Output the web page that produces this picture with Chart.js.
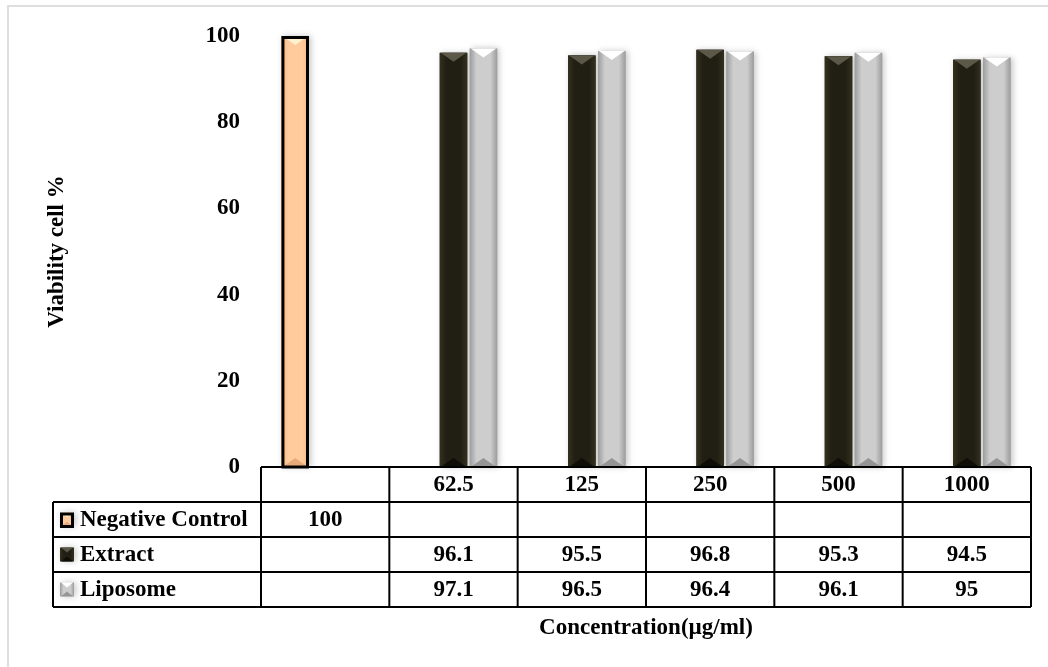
<!DOCTYPE html>
<html>
<head>
<meta charset="utf-8">
<script src="https://cdn.jsdelivr.net/npm/chart.js@4.4.0/dist/chart.umd.min.js"></script>
<style>
html, body { margin: 0; padding: 0; background: #fff; }
#wrap { width: 1048px; height: 667px; position: relative; }
</style>
</head>
<body>
<div id="wrap"><canvas id="chart" width="1048" height="667"></canvas></div>
<script>
// data
const categories = ['', '62.5', '125', '250', '500', '1000'];
const negativeControl = [100, null, null, null, null, null];
const extract = [null, 96.1, 95.5, 96.8, 95.3, 94.5];
const liposome = [null, 97.1, 96.5, 96.4, 96.1, 95];
const seriesNames = ['Negative Control', 'Extract', 'Liposome'];
const yTitle = 'Viability cell %';
const xTitle = 'Concentration(µg/ml)';

const FONT = "'Liberation Serif', 'Times New Roman', serif";

// look of each series (3D bevelled bars)
const looks = [
    { edge: '#f5b882', mid: '#ffcb9c', top: '#fff3cf', bottom: '#eaa978', border: '#000' },
    { edge: '#34301f', mid: '#211e13', top: '#5b5848', bottom: '#0e0c06', border: null },
    { edge: '#9c9c9c', mid: '#cdcdcd', top: '#ffffff', bottom: '#959595', border: null }
];

function paintBar(ctx, l, t, r, b, look, bev) {
    const w = r - l, cx = (l + r) / 2;
    ctx.save();
    ctx.shadowColor = 'rgba(0,0,0,0.22)';
    ctx.shadowBlur = 6;
    ctx.shadowOffsetX = 2;
    const g = ctx.createLinearGradient(l, 0, r, 0);
    g.addColorStop(0, look.edge);
    g.addColorStop(0.25, look.mid);
    g.addColorStop(0.75, look.mid);
    g.addColorStop(1, look.edge);
    ctx.fillStyle = g;
    ctx.fillRect(l, t, w, b - t);
    ctx.restore();

    // top chevron highlight
    ctx.fillStyle = look.top;
    ctx.beginPath();
    ctx.moveTo(l + 1, t); ctx.lineTo(r - 1, t); ctx.lineTo(cx, t + bev); ctx.closePath();
    ctx.fill();
    // bottom chevron shade
    ctx.fillStyle = look.bottom;
    ctx.beginPath();
    ctx.moveTo(l + 1, b); ctx.lineTo(r - 1, b); ctx.lineTo(cx, b - bev); ctx.closePath();
    ctx.fill();

    if (look.border) {
        ctx.strokeStyle = look.border;
        ctx.lineWidth = 3;
        ctx.strokeRect(l + 1.5, t + 1.5, w - 3, b - t - 1.5);
    }
}

const barLook = {
    id: 'barLook',
    afterDatasetsDraw(chart) {
        const ctx = chart.ctx;
        chart.data.datasets.forEach((ds, di) => {
            const meta = chart.getDatasetMeta(di);
            meta.data.forEach((bar, i) => {
                if (ds.data[i] == null) return;
                const p = bar.getProps(['x', 'y', 'base', 'width'], true);
                paintBar(ctx, p.x - p.width / 2, p.y, p.x + p.width / 2, p.base, looks[di], 9);
            });
        });
    }
};

const tableAndTitles = {
    id: 'tableAndTitles',
    afterDraw(chart) {
        const ctx = chart.ctx;
        const area = chart.chartArea;
        const xs = chart.scales.x;
        const n = categories.length;
        const colW = (area.right - area.left) / n;
        const rowH = 35;
        const top = area.bottom;
        const labelLeft = 53;
        const rows = [negativeControl, extract, liposome];

        ctx.save();
        // faint frame of the figure
        ctx.strokeStyle = '#dedede';
        ctx.lineWidth = 2;
        ctx.beginPath();
        ctx.moveTo(8, 667); ctx.lineTo(8, 6); ctx.lineTo(1048, 6);
        ctx.stroke();

        // grid of the data table
        ctx.strokeStyle = '#000';
        ctx.lineWidth = 2;
        ctx.beginPath();
        ctx.moveTo(area.left, top); ctx.lineTo(area.right, top);
        for (let r = 1; r <= 4; r++) {
            ctx.moveTo(labelLeft, top + r * rowH); ctx.lineTo(area.right, top + r * rowH);
        }
        for (let c = 0; c <= n; c++) {
            const x = area.left + c * colW;
            ctx.moveTo(x, top); ctx.lineTo(x, top + 4 * rowH);
        }
        ctx.moveTo(labelLeft, top + rowH); ctx.lineTo(labelLeft, top + 4 * rowH);
        ctx.stroke();

        ctx.fillStyle = '#000';
        ctx.textAlign = 'center';
        ctx.textBaseline = 'middle';
        ctx.font = 'bold 23px ' + FONT;
        categories.forEach((c, i) => {
            ctx.fillText(c, xs.getPixelForValue(i), top + rowH / 2 + 1);
        });
        rows.forEach((vals, r) => {
            const cy = top + (r + 1.5) * rowH + 1;
            vals.forEach((v, i) => {
                if (v == null) return;
                ctx.fillText(String(v), xs.getPixelForValue(i), cy);
            });
        });

        // series names with legend keys
        ctx.textAlign = 'left';
        seriesNames.forEach((name, r) => {
            const cy = top + (r + 1.5) * rowH;
            paintBar(ctx, 60, cy - 7, 74, cy + 7, looks[r], 5);
            ctx.fillStyle = '#000';
            ctx.fillText(name, 80, cy + 1);
        });

        // axis titles
        ctx.textAlign = 'center';
        ctx.fillText(xTitle, (area.left + area.right) / 2, 628);
        ctx.save();
        ctx.translate(57, (area.top + area.bottom) / 2);
        ctx.rotate(-Math.PI / 2);
        ctx.fillText(yTitle, 0, 0);
        ctx.restore();
        ctx.restore();
    }
};

new Chart(document.getElementById('chart'), {
    type: 'bar',
    data: {
        labels: categories,
        datasets: [
            { label: seriesNames[0], data: negativeControl, backgroundColor: looks[0].mid },
            { label: seriesNames[1], data: extract, backgroundColor: looks[1].mid },
            { label: seriesNames[2], data: liposome, backgroundColor: looks[2].mid }
        ]
    },
    options: {
        responsive: false,
        animation: false,
        categoryPercentage: 0.7,
        barPercentage: 0.92,
        layout: { padding: { top: 36, bottom: 200, left: 0, right: 17 } },
        plugins: { legend: { display: false }, tooltip: { enabled: false } },
        scales: {
            x: { display: false },
            y: {
                min: 0, max: 100,
                afterFit(scale) { scale.width = 261; },
                grid: { display: false, drawTicks: false },
                border: { display: false },
                ticks: {
                    stepSize: 20, padding: 21, color: '#000',
                    font: { family: FONT, size: 23, weight: 'bold' }
                }
            }
        }
    },
    plugins: [barLook, tableAndTitles]
});
</script>
</body>
</html>
